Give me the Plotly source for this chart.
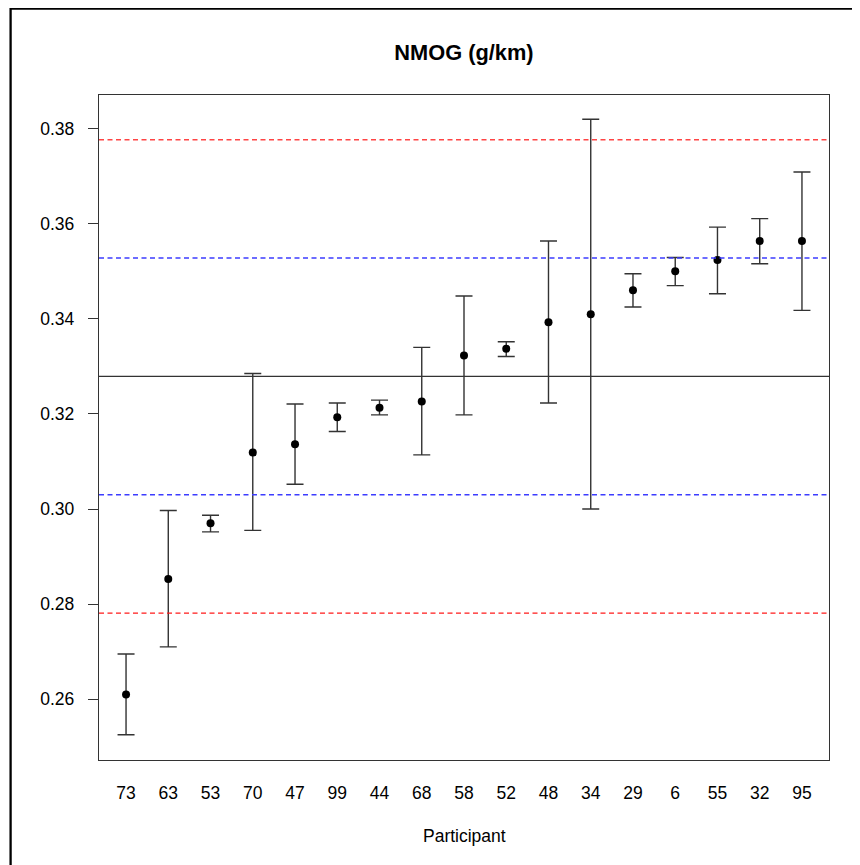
import plotly.graph_objects as go

# participants ordered by mean NMOG
participants = ["73", "63", "53", "70", "47", "99", "44", "68", "58",
                "52", "48", "34", "29", "6", "55", "32", "95"]
means = [0.2610, 0.2853, 0.2970, 0.3119, 0.3136, 0.3193, 0.3213, 0.3226, 0.3323,
         0.3337, 0.3393, 0.3410, 0.3460, 0.3500, 0.3524, 0.3564, 0.3564]
upper = [0.2695, 0.2997, 0.2987, 0.3285, 0.3221, 0.3223, 0.3229, 0.3340, 0.3448,
         0.3352, 0.3564, 0.3820, 0.3495, 0.3529, 0.3593, 0.3611, 0.3709]
lower = [0.2525, 0.2710, 0.2952, 0.2955, 0.3052, 0.3163, 0.3198, 0.3114, 0.3198,
         0.3321, 0.3223, 0.3000, 0.3425, 0.3470, 0.3453, 0.3516, 0.3418]

grand_mean = 0.3279
inner_limits = [0.3030, 0.3528]
outer_limits = [0.2781, 0.3777]
yticks = [0.26, 0.28, 0.30, 0.32, 0.34, 0.36, 0.38]

FONT = "Liberation Sans, Arial, sans-serif"

fig = go.Figure()

fig.add_trace(go.Scatter(
    x=participants, y=means, mode="markers",
    marker=dict(color="black", size=8),
    error_y=dict(type="data", symmetric=False,
                 array=[u - m for u, m in zip(upper, means)],
                 arrayminus=[m - l for m, l in zip(means, lower)],
                 color="#333", thickness=1.4, width=8.5),
    showlegend=False, hoverinfo="skip",
))

# reference lines
dash = "5px,3.5px"
fig.add_hline(y=grand_mean, line=dict(color="#333", width=1.4))
fig.add_hline(y=inner_limits[0], line=dict(color="#3c3cff", width=1.4, dash=dash))
fig.add_hline(y=inner_limits[1], line=dict(color="#3c3cff", width=1.4, dash=dash))
fig.add_hline(y=outer_limits[0], line=dict(color="#ff1a1a", width=1.4, dash=dash))
fig.add_hline(y=outer_limits[1], line=dict(color="#ff4444", width=1.4, dash=dash))

# outer frame (only top and left visible in the crop)
fig.add_shape(type="rect", xref="paper", yref="paper",
              x0=-0.1211, x1=2, y0=-2, y1=1 + 86.3 / 664.4,
              line=dict(color="black", width=2.3), layer="above")

# page body adds an 8px offset, so the figure is 8px smaller
fig.update_layout(
    width=852, height=857,
    margin=dict(l=91.3, r=31.3, t=87.3, b=105.3, autoexpand=False),
    plot_bgcolor="white", paper_bgcolor="white",
    font=dict(family=FONT, size=17.5, color="black"),
    title=dict(text="<b>NMOG (g/km)</b>", x=(464 - 8) / 852, xanchor="center",
               y=1 - 44 / 857, yref="container", yanchor="middle",
               font=dict(size=21.8, family=FONT, color="black")),
    xaxis=dict(type="category", range=[-0.64, 16.64],
               showline=True, mirror=True, linecolor="#333", linewidth=1.4,
               showgrid=False, zeroline=False,
               ticks="", ticklabelstandoff=17),
    yaxis=dict(range=[0.2472, 0.3871], tickvals=yticks, tickformat=".2f",
               showline=True, mirror=True, linecolor="#333", linewidth=1.4,
               showgrid=False, zeroline=False,
               ticks="outside", ticklen=10, tickwidth=1.4, tickcolor="#333",
               ticklabelstandoff=10),
)

fig.add_annotation(text="Participant", xref="paper", yref="paper",
                   x=0.5, y=-76.3 / 664.4, yanchor="middle", showarrow=False,
                   font=dict(size=17.5, family=FONT, color="black"))

fig.write_html("out.html")
